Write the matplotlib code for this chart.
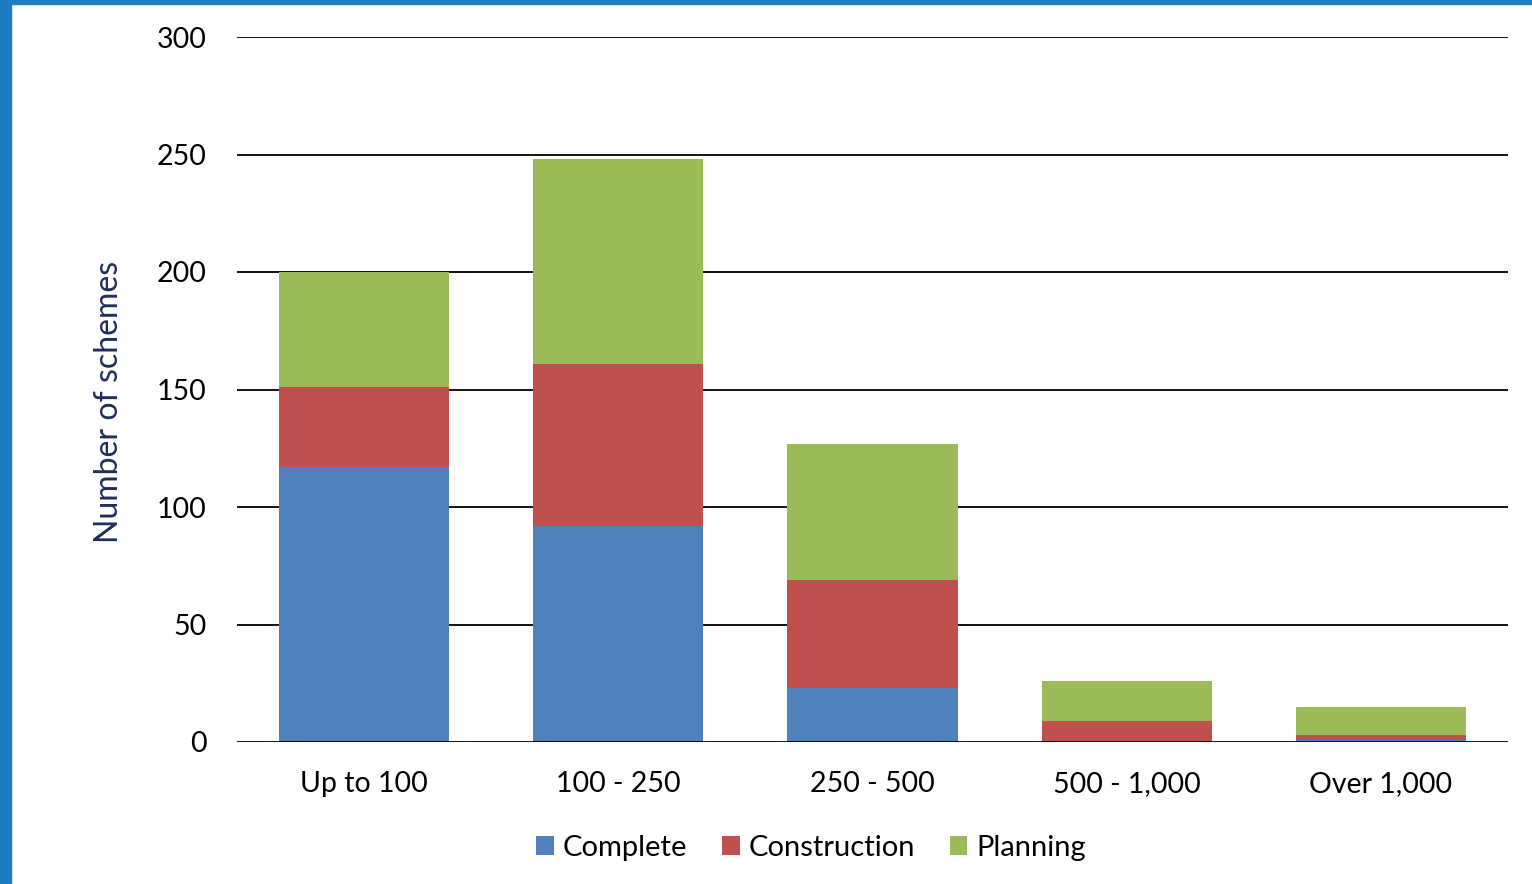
import matplotlib
matplotlib.use("Agg")
import matplotlib.pyplot as plt
from matplotlib.patches import Rectangle

categories = ["Up to 100", "100 - 250", "250 - 500", "500 - 1,000", "Over 1,000"]
complete = [117, 92, 23, 0, 1]
construction = [34, 69, 46, 9, 2]
planning = [49, 87, 58, 17, 12]
series_names = ["Complete", "Construction", "Planning"]
colors = ["#4f81bd", "#c0504d", "#9bbb59"]
yticks = [0, 50, 100, 150, 200, 250, 300]

plt.rcParams['font.family'] = ['Lato', 'DejaVu Sans']

fig = plt.figure(figsize=(15.32, 8.84), dpi=100)
ax = fig.add_axes([237/1532, 1 - 742/884, (1508-237)/1532, (742-37)/884])

x = list(range(len(categories)))
width = 0.669
bottom = [0]*len(categories)
for vals, name, c in zip([complete, construction, planning], series_names, colors):
    ax.bar(x, vals, width, bottom=bottom, color=c, label=name, zorder=3)
    bottom = [b + v for b, v in zip(bottom, vals)]

ax.set_xlim(-0.5, len(categories) - 0.5)
ax.set_ylim(0, 300)
ax.set_yticks(yticks)
ax.set_yticklabels([str(t) for t in yticks])
ax.set_xticks(x)
ax.set_xticklabels(categories)
for t in yticks:
    ax.axhline(t, color="black", lw=1.3, zorder=2 if t > 0 else 4)
for s in ax.spines.values():
    s.set_visible(False)
ax.tick_params(axis='both', length=0, labelsize=20.5, colors="black")
ax.tick_params(axis='y', pad=22)
ax.tick_params(axis='x', pad=21)
ax.set_ylabel("Number of schemes", fontsize=23, color="#1f2d5a")
ax.yaxis.set_label_coords((124 - 237) / (1508 - 237), (742 - 402) / (742 - 37))

leg_cx = (811 - 237) / (1508 - 237)
ax.legend(loc="center", bbox_to_anchor=(leg_cx, (742 - 848) / (742 - 37)), ncol=3, frameon=False,
          fontsize=21, handlelength=0.6, handleheight=0.6, handletextpad=0.3,
          columnspacing=1.2)

# Blue frame edges
fig.patches.append(Rectangle((0, 0), 11/1532, 1, transform=fig.transFigure,
                             color="#1f7bc0", zorder=10))
fig.patches.append(Rectangle((0, 1 - 4/884), 1, 4/884, transform=fig.transFigure,
                             color="#1f7bc0", zorder=10))

fig.savefig("out.png", dpi=100)
